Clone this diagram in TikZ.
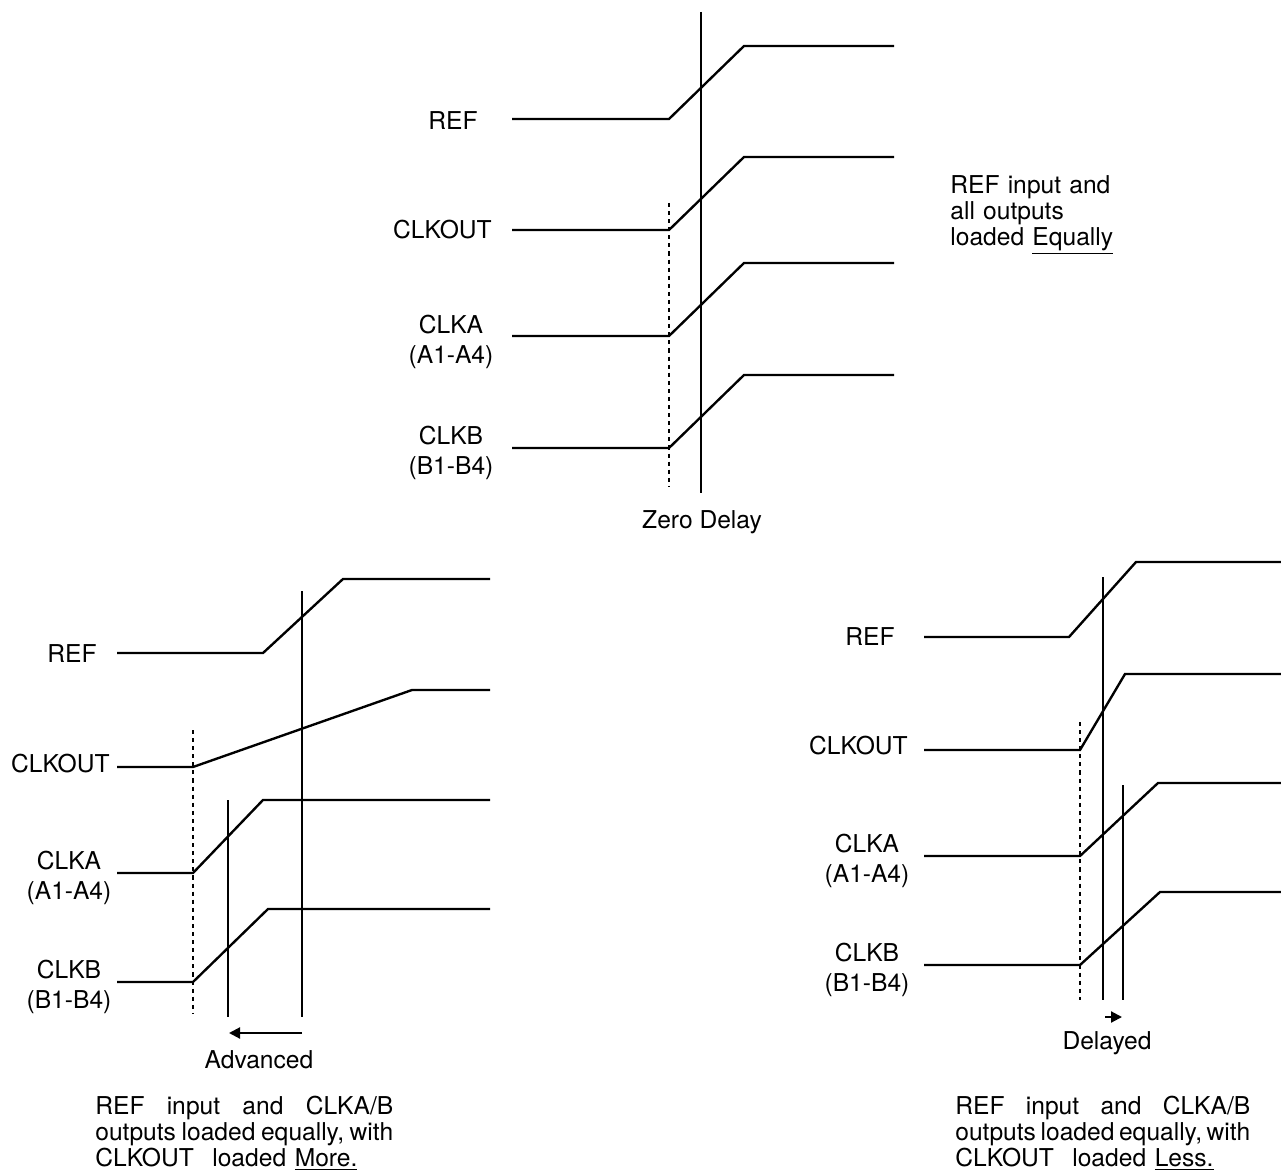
\documentclass[tikz,border=0pt]{standalone}
\usepackage{fontspec}
\setmainfont{TeX Gyre Heros}
\usetikzlibrary{arrows.meta}

\tikzset{
  sig/.style={line width=1.35pt},
  marker/.style={line width=1.2pt},
  dotline/.style={line width=1.3pt, dash pattern=on 2.3pt off 2.3pt},
  lbl/.style={font=\fontsize{14}{16.8}\selectfont, inner sep=0pt, align=center},
  note/.style={font=\fontsize{14}{14.8}\selectfont, inner sep=0pt, anchor=north west, align=left},
  skewarrow/.style={line width=1.2pt, -{Triangle[length=0.22cm,width=0.22cm]}}
}

\begin{document}
\begin{tikzpicture}[x=0.02cm, y=-0.02cm]
    \useasboundingbox (0,0) rectangle (1281,1172);

    \draw[sig] (512,119) -- (669,119) -- (744,46) -- (894,46);
    \draw[sig] (512,230) -- (669,230) -- (744,157) -- (894,157);
    \draw[sig] (512,336) -- (669,336) -- (744,263) -- (894,263);
    \draw[sig] (512,448) -- (669,448) -- (744,375) -- (894,375);

    \draw[marker] (701,12) -- (701,493);
    \draw[dotline] (669,203) -- (669,487);

    \node[lbl, anchor=east] (refT) at (478,121) {REF};
    \node[lbl, anchor=east] (clkoutT) at (492,230) {CLKOUT};
    \node[lbl] (clkaT) at (451,342) {CLKA\\(A1-A4)};
    \node[lbl] (clkbT) at (451,453) {CLKB\\(B1-B4)};
    \node[lbl] (zero) at (702,522) {Zero Delay};
    \node[note, text width=4cm, font=\fontsize{14}{15}\selectfont] (equal) at (950,175)
        {REF input and\\all outputs\\loaded \underline{Equally}};

    \draw[sig] (117,653) -- (263,653) -- (343,579) -- (490,579);
    \draw[sig] (117,767) -- (193,767) -- (412,690) -- (490,690);
    \draw[sig] (117,873) -- (193,873) -- (263,800) -- (490,800);
    \draw[sig] (117,982) -- (193,982) -- (268,909) -- (490,909);

    \draw[dotline] (193,730) -- (193,1013);
    \draw[marker] (228,800) -- (228,1017);
    \draw[marker] (302,591) -- (302,1017);

    \coordinate (advR) at (302,1033);
    \coordinate (advL) at (229,1033);
    \draw[skewarrow] (advR) -- (advL);

    \node[lbl, anchor=east] (refL) at (97,654) {REF};
    \node[lbl, anchor=east] (clkoutL) at (110,764) {CLKOUT};
    \node[lbl] (clkaL) at (69,878) {CLKA\\(A1-A4)};
    \node[lbl] (clkbL) at (69,987) {CLKB\\(B1-B4)};
    \node[lbl] (adv) at (259,1060) {Advanced};
    \node[note, text width=5.96cm] (more) at (95,1096)
        {\makebox[5.96cm][s]{REF\hfill input\hfill and\hfill CLKA/B}\\
         \makebox[5.96cm][s]{outputs\hfill loaded\hfill equally,\hfill with}\\
         CLKOUT\hspace{0.75em}loaded\hspace{0.35em}\underline{More.}};

    \draw[sig] (924,637) -- (1069,637) -- (1136,562) -- (1281,562);
    \draw[sig] (924,750) -- (1080,750) -- (1125,674) -- (1281,674);
    \draw[sig] (924,856) -- (1080,856) -- (1158,783) -- (1281,783);
    \draw[sig] (924,965) -- (1080,965) -- (1160,892) -- (1281,892);

    \draw[dotline] (1080,722) -- (1080,1000);
    \draw[marker] (1103,577) -- (1103,1000);
    \draw[marker] (1123,785) -- (1123,1000);

    \coordinate (delL) at (1105,1017);
    \coordinate (delR) at (1122,1017);
    \draw[skewarrow] (delL) -- (delR);

    \node[lbl, anchor=east] (refR) at (895,637) {REF};
    \node[lbl, anchor=east] (clkoutR) at (908,746) {CLKOUT};
    \node[lbl] (clkaR) at (867,861) {CLKA\\(A1-A4)};
    \node[lbl] (clkbR) at (867,970) {CLKB\\(B1-B4)};
    \node[lbl] (del) at (1107,1043) {Delayed};
    \node[note, text width=5.9cm] (less) at (955,1096)
        {\makebox[5.9cm][s]{REF\hfill input\hfill and\hfill CLKA/B}\\
         \makebox[5.9cm][s]{outputs\hfill loaded\hfill equally,\hfill with}\\
         CLKOUT\hspace{0.75em}loaded\hspace{0.35em}\underline{Less.}};
\end{tikzpicture}
\end{document}
